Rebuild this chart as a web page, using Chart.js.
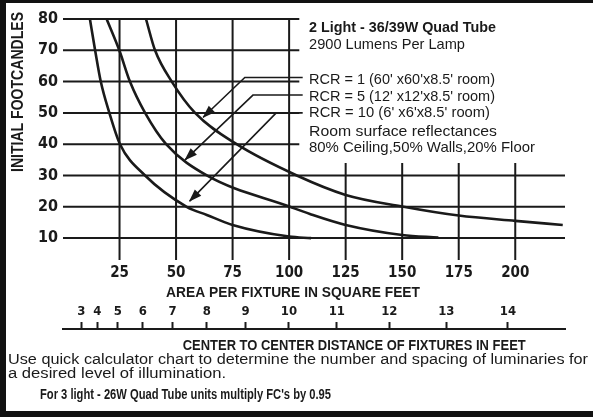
<!DOCTYPE html>
<html>
<head>
<meta charset="utf-8">
<script src="https://cdn.jsdelivr.net/npm/chart.js@4/dist/chart.umd.min.js"></script>
<style>
  html, body { margin: 0; padding: 0; background: #fff; width: 593px; height: 417px; overflow: hidden; }
  #moldura { position: absolute; left: 0; top: 0; width: 593px; height: 417px; box-sizing: border-box;
             border-top: 3px solid #111; border-left: 6px solid #111; border-bottom: 6px solid #111; border-right: 0; }
  #caixa { position: absolute; left: 0; top: 0; width: 593px; height: 417px; overflow: hidden; }
</style>
</head>
<body>
<div id="moldura"></div>
<div id="caixa"><canvas id="grafico"></canvas></div>
<script>
// Eixos
const yTicks = [10, 20, 30, 40, 50, 60, 70, 80];
const xTicks = [25, 50, 75, 100, 125, 150, 175, 200];
const distTicks = [3, 4, 5, 6, 7, 8, 9, 10, 11, 12, 13, 14];

// Curvas (area por luminaria -> footcandles)
const rcr1Area = [36.7, 40.7, 48.1, 58.4, 76.8, 103.4, 125, 150, 175, 200, 221];
const rcr1Fc   = [80, 70, 60, 50, 40, 30, 23.8, 20.1, 17.2, 15.5, 14.2];
const rcr5Area = [19.3, 24.9, 29.6, 36.3, 45.6, 63.6, 100.4, 109.2, 125, 150, 166];
const rcr5Fc   = [80, 70, 60, 50, 40, 30, 20, 17.7, 14.2, 11, 10.2];
const rcr10Area = [11.9, 14.2, 16.7, 20.5, 25.2, 36.3, 54.7, 63.6, 75, 100, 109.7];
const rcr10Fc   = [80, 70, 60, 50, 40, 30, 20, 17.4, 14.2, 10.5, 10];

// Setas das legendas
const seta1Area = [106, 80.4, 62];
const seta1Fc   = [61.3, 61.3, 48.6];
const seta5Area = [106, 84, 54];
const seta5Fc   = [55.7, 55.7, 35];
const seta10Area = [106, 94.3, 56];
const seta10Fc   = [50, 50, 21.8];

// Grade irregular
const gradeCurta = [40, 50, 60, 70, 80];   // linhas que param logo depois do 100
const gradeLonga = [10, 20, 30];
const vertAltas = [25, 50, 75, 100];
const vertBaixas = [125, 150, 175, 200];
const fimCurta = 104.5;
const topoVertBaixas = 34;

const fonteNarrow = "'Liberation Sans Narrow', 'DejaVu Sans Condensed', 'Arial Narrow', sans-serif";
const fonteTexto = "'Liberation Sans', Arial, sans-serif";
const cor = '#1a1a1a';

Chart.defaults.font.family = fonteNarrow;
Chart.defaults.color = cor;

function pontos(xs, ys) {
  return xs.map((x, i) => ({ x: x, y: ys[i] }));
}

// texto ajustado a uma largura
function texto(ctx, s, x, y, font, larg, align) {
  ctx.font = font;
  const w = ctx.measureText(s).width;
  const sx = larg ? larg / w : 1;
  ctx.save();
  ctx.translate(x, y);
  ctx.scale(sx, 1);
  ctx.textAlign = align || 'left';
  ctx.textBaseline = 'middle';
  ctx.fillStyle = cor;
  ctx.fillText(s, 0, 0);
  ctx.restore();
}

// Grade desenhada pelas escalas
const gradePlugin = {
  id: 'grade',
  beforeDatasetsDraw(chart) {
    const { ctx, scales: { x, y } } = chart;
    ctx.save();
    ctx.strokeStyle = cor;
    ctx.lineWidth = 2;
    ctx.beginPath();
    gradeCurta.forEach(v => {
      ctx.moveTo(x.getPixelForValue(0), y.getPixelForValue(v));
      ctx.lineTo(x.getPixelForValue(fimCurta), y.getPixelForValue(v));
    });
    gradeLonga.forEach(v => {
      ctx.moveTo(x.getPixelForValue(0), y.getPixelForValue(v));
      ctx.lineTo(x.getPixelForValue(x.max), y.getPixelForValue(v));
    });
    vertAltas.forEach(v => {
      ctx.moveTo(x.getPixelForValue(v), y.getPixelForValue(80) - 1);
      ctx.lineTo(x.getPixelForValue(v), y.getPixelForValue(y.min));
    });
    vertBaixas.forEach(v => {
      ctx.moveTo(x.getPixelForValue(v), y.getPixelForValue(topoVertBaixas));
      ctx.lineTo(x.getPixelForValue(v), y.getPixelForValue(y.min));
    });
    ctx.stroke();
    ctx.restore();
  }
};

// Pontas de seta + textos
const textoPlugin = {
  id: 'textos',
  afterDatasetsDraw(chart) {
    const ctx = chart.ctx;
    [3, 4, 5].forEach(i => {
      const pts = chart.getDatasetMeta(i).data;
      const a = pts[pts.length - 2], b = pts[pts.length - 1];
      const ang = Math.atan2(b.y - a.y, b.x - a.x);
      ctx.save();
      ctx.translate(b.x, b.y);
      ctx.rotate(ang);
      ctx.fillStyle = cor;
      ctx.beginPath();
      ctx.moveTo(1, 0);
      ctx.lineTo(-12, -4.5);
      ctx.lineTo(-12, 4.5);
      ctx.closePath();
      ctx.fill();
      ctx.restore();
    });

    const bold = "bold 14.5px " + fonteTexto;
    const reg = "14.5px " + fonteTexto;
    texto(ctx, '2 Light - 36/39W Quad Tube', 309, 28, bold, 187);
    texto(ctx, '2900 Lumens Per Lamp', 309, 45, reg, 156);
    texto(ctx, "RCR = 1 (60' x60'x8.5' room)", 309, 80, reg, 186);
    texto(ctx, "RCR = 5 (12' x12'x8.5' room)", 309, 96.7, reg, 186);
    texto(ctx, "RCR = 10 (6' x6'x8.5' room)", 309, 113.3, reg, 181);
    texto(ctx, 'Room surface reflectances', 309, 131.7, reg, 188);
    texto(ctx, '80% Ceiling,50% Walls,20% Floor', 309, 148.3, reg, 226);

    // titulo vertical
    ctx.save();
    ctx.translate(19, 92);
    ctx.rotate(-Math.PI / 2);
    texto(ctx, 'INITIAL FOOTCANDLES', 0, 0, "bold 16px " + fonteTexto, 160, 'center');
    ctx.restore();

    texto(ctx, 'AREA PER FIXTURE IN SQUARE FEET', 293, 293, "bold 15.5px " + fonteTexto, 254, 'center');
    texto(ctx, 'CENTER TO CENTER DISTANCE OF FIXTURES IN FEET', 182.7, 346, "bold 14.5px " + fonteTexto, 343);
    texto(ctx, 'Use quick calculator chart to determine the number and spacing of luminaries for', 8, 360, "14px " + fonteTexto, 580);
    texto(ctx, 'a desired level of illumination.', 8, 374, "14px " + fonteTexto, 218);
    texto(ctx, "For 3 light - 26W Quad Tube units multiply FC's by 0.95", 40, 395, "bold 14px " + fonteTexto, 291);
  }
};

const curva = (dados) => ({
  data: dados,
  borderColor: cor,
  borderWidth: 2.6,
  pointRadius: 0,
  cubicInterpolationMode: 'monotone',
  clip: false
});
const seta = (dados) => ({
  data: dados,
  borderColor: cor,
  borderWidth: 1.6,
  pointRadius: 0,
  tension: 0,
  clip: false
});

const ctxGrafico = document.getElementById('grafico').getContext('2d');
new Chart(ctxGrafico, {
  type: 'line',
  data: {
    datasets: [
      curva(pontos(rcr1Area, rcr1Fc)),
      curva(pontos(rcr5Area, rcr5Fc)),
      curva(pontos(rcr10Area, rcr10Fc)),
      seta(pontos(seta1Area, seta1Fc)),
      seta(pontos(seta5Area, seta5Fc)),
      seta(pontos(seta10Area, seta10Fc))
    ]
  },
  options: {
    responsive: true,
    maintainAspectRatio: false,
    animation: false,
    events: [],
    layout: { padding: { left: 0, right: 28, top: 19, bottom: 127 } },
    plugins: { legend: { display: false }, tooltip: { enabled: false } },
    scales: {
      x: {
        type: 'linear', min: 0, max: 222,
        afterBuildTicks: s => { s.ticks = xTicks.map(v => ({ value: v })); },
        afterFit: s => { s.height = 30; },
        grid: { display: false, drawTicks: false },
        border: { display: false },
        ticks: { autoSkip: false, maxRotation: 0, padding: 4, font: { size: 15, weight: 'bold' } }
      },
      x2: {
        type: 'linear', min: 1, max: 221,
        position: { y: -19 },
        afterBuildTicks: s => { s.ticks = distTicks.map(d => ({ value: d * d })); },
        grid: { display: true, drawOnChartArea: false, drawTicks: true, tickLength: -8, tickWidth: 2, tickColor: cor },
        border: { display: true, width: 2, color: cor },
        ticks: {
          autoSkip: false, maxRotation: 0, padding: -17.4,
          font: { size: 13, weight: 'bold' },
          callback: v => Math.round(Math.sqrt(v))
        }
      },
      y: {
        type: 'linear', min: 3, max: 80,
        afterBuildTicks: s => { s.ticks = yTicks.map(v => ({ value: v })); },
        afterFit: s => { s.width = 63; },
        grid: { display: false, drawTicks: false },
        border: { display: false },
        ticks: { padding: 5, font: { size: 16, weight: 'bold' } }
      }
    }
  },
  plugins: [gradePlugin, textoPlugin]
});
</script>
</body>
</html>
